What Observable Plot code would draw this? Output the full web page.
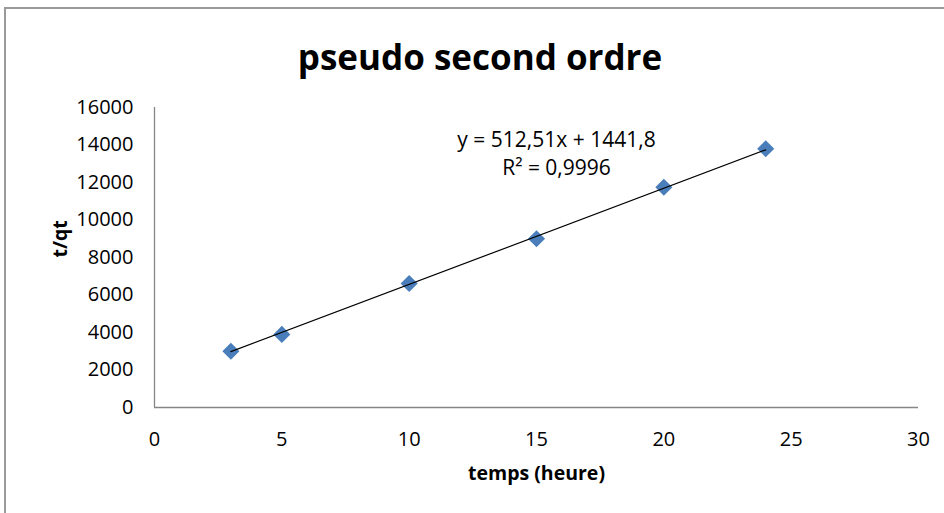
<!DOCTYPE html>
<html>
<head>
<meta charset="utf-8">
<script src="https://cdn.jsdelivr.net/npm/d3@7"></script>
<script src="https://cdn.jsdelivr.net/npm/@observablehq/plot@0.6"></script>
<style>
  html, body { margin: 0; padding: 0; background: #fff; }
  body { width: 944px; height: 513px; overflow: hidden; position: relative; font-family: "Open Sans", sans-serif; }
  #frame { position: absolute; left: 4px; top: 7px; width: 1000px; height: 600px; border-left: 2px solid #9a9a9a; border-top: 2px solid #9a9a9a; box-sizing: border-box; }
  #title { position: absolute; left: 8px; width: 944px; top: 33px; line-height: 47px; text-align: center; font-size: 35px; font-weight: 700; color: #000; margin: 0; }
  #chart { position: absolute; left: 0; top: 90px; }
</style>
</head>
<body>
<div id="frame"></div>
<h1 id="title">pseudo second ordre</h1>
<div id="chart"></div>
<script>
// Data
const temps = [3, 5, 10, 15, 20, 24];
const tqt = [3000, 3900, 6610, 9000, 11750, 13800];
const xTicks = [0, 5, 10, 15, 20, 25, 30];
const yTicks = [0, 2000, 4000, 6000, 8000, 10000, 12000, 14000, 16000];
const slope = 512.51;
const intercept = 1441.8;
const r2 = 0.9996;
const xLabel = "temps (heure)";
const yLabel = "t/qt";

const points = temps.map((t, i) => ({x: t, y: tqt[i]}));
const [x0, x1] = d3.extent(temps);
const trend = [x0, x1].map(x => ({x, y: slope * x + intercept}));
const fr = v => String(v).replace(".", ",");
const eqText = `y = ${fr(slope)}x + ${fr(intercept)}\nR² = ${fr(r2)}`;

const axisColor = "#868686";
const chart = Plot.plot({
  width: 944,
  height: 423,
  marginLeft: 154,
  marginRight: 26,
  marginTop: 17,
  marginBottom: 106,
  style: {fontFamily: '"Open Sans", sans-serif', fontSize: "20px", color: "#000", background: "transparent", overflow: "visible"},
  x: {domain: [0, 30]},
  y: {domain: [0, 16000]},
  marks: [
    Plot.axisX({ticks: xTicks, tickSize: 0, tickPadding: 24, label: null, fontSize: 20, tickFormat: d => String(d)}),
    Plot.axisY({ticks: yTicks, tickSize: 0, tickPadding: 21, label: null, fontSize: 20, tickFormat: d => String(d)}),
    Plot.ruleY([0], {stroke: axisColor, strokeWidth: 1.3}),
    Plot.ruleX([0], {stroke: axisColor, strokeWidth: 1.3}),
    Plot.dot(points, {x: "x", y: "y", symbol: "diamond2", r: 7.7, fill: "#4a7ebb", stroke: "none"}),
    Plot.line(trend, {x: "x", y: "y", stroke: "#000", strokeWidth: 1.2}),
    Plot.text([eqText], {frameAnchor: "top", dx: 20, dy: 44.5, lineAnchor: "middle", lineHeight: 1.35, fontSize: 21, fill: "#000"}),
    Plot.text([xLabel], {frameAnchor: "bottom", dy: 66, lineAnchor: "middle", fontSize: 19.5, fontWeight: "bold", fill: "#000"}),
    Plot.text([yLabel], {frameAnchor: "left", dx: -94, rotate: -90, lineAnchor: "middle", fontSize: 19.5, fontWeight: "bold", fill: "#000"})
  ]
});
document.getElementById("chart").appendChild(chart);
</script>
</body>
</html>
